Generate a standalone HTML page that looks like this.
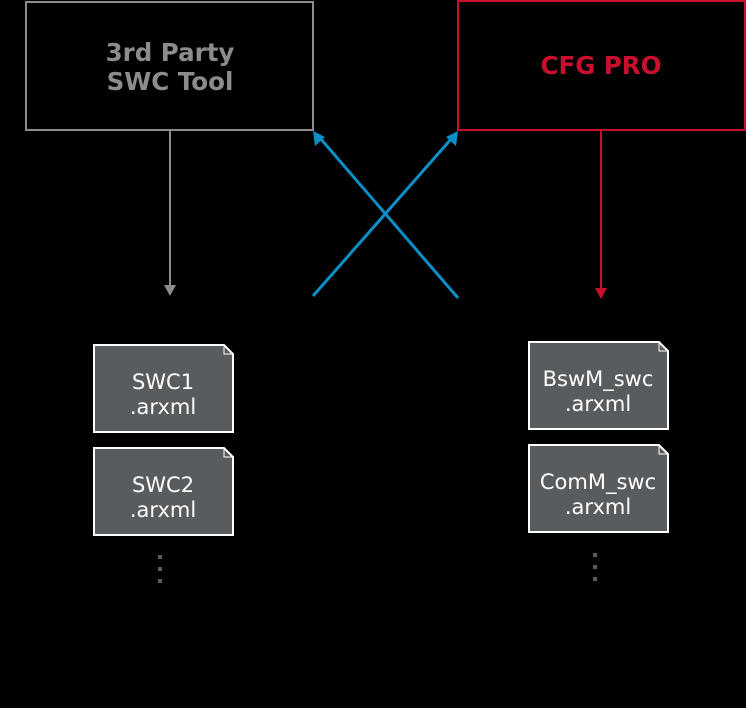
<!DOCTYPE html>
<html><head><style>body{margin:0;background:#000}svg{display:block}</style></head><body>
<svg width="746" height="708" xmlns="http://www.w3.org/2000/svg" font-family="DejaVu Sans, Liberation Sans, sans-serif">
<rect width="746" height="708" fill="#000"/>
<rect x="26" y="2" width="287" height="128" fill="none" stroke="#8a8c8e" stroke-width="2"/>
<text x="170" y="61" text-anchor="middle" font-size="24.5" font-weight="bold" fill="#8a8c8e">3rd Party</text>
<text x="170" y="90" text-anchor="middle" font-size="24.5" font-weight="bold" fill="#8a8c8e">SWC Tool</text>
<rect x="458" y="1" width="287" height="129" fill="none" stroke="#c8102e" stroke-width="2"/>
<text x="601" y="74" text-anchor="middle" font-size="24.5" font-weight="bold" fill="#c8102e">CFG PRO</text>
<line x1="170" y1="130" x2="170" y2="287" stroke="#8a8c8e" stroke-width="2"/>
<polygon points="164,285 176,285 170,296" fill="#8a8c8e"/>
<line x1="601" y1="130" x2="601" y2="290" stroke="#c8102e" stroke-width="2"/>
<polygon points="595,288 607,288 601,299" fill="#c8102e"/>
<g stroke="#0a8fc8" stroke-width="3">
<line x1="313" y1="296" x2="452" y2="138"/>
<line x1="458" y1="298" x2="320" y2="138"/>
</g>
<polygon points="458,131 456,146 446,137" fill="#0a8fc8"/>
<polygon points="313,131 325,137 315,146" fill="#0a8fc8"/>
<g font-size="21" fill="#fff" text-anchor="middle">
<path d="M94 345 H224 L233 354 V432 H94 Z" fill="#585c5f" stroke="#fff" stroke-width="2"/>
<path d="M224 345 V354 H233" fill="none" stroke="#fff" stroke-width="1"/>
<text x="163" y="389">SWC1</text><text x="163" y="414">.arxml</text>
<path d="M94 448 H224 L233 457 V535 H94 Z" fill="#585c5f" stroke="#fff" stroke-width="2"/>
<path d="M224 448 V457 H233" fill="none" stroke="#fff" stroke-width="1"/>
<text x="163" y="492">SWC2</text><text x="163" y="517">.arxml</text>
<path d="M529 342 H659 L668 351 V429 H529 Z" fill="#585c5f" stroke="#fff" stroke-width="2"/>
<path d="M659 342 V351 H668" fill="none" stroke="#fff" stroke-width="1"/>
<text x="598" y="386">BswM_swc</text><text x="598" y="411">.arxml</text>
<path d="M529 445 H659 L668 454 V532 H529 Z" fill="#585c5f" stroke="#fff" stroke-width="2"/>
<path d="M659 445 V454 H668" fill="none" stroke="#fff" stroke-width="1"/>
<text x="598" y="489">ComM_swc</text><text x="598" y="514">.arxml</text>
</g>
<g fill="#585c5f">
<rect x="158" y="555" width="4" height="4"/><rect x="158" y="567" width="4" height="4"/><rect x="158" y="579" width="4" height="4"/>
<rect x="593" y="553" width="4" height="4"/><rect x="593" y="565" width="4" height="4"/><rect x="593" y="577" width="4" height="4"/>
</g>
</svg>
</body></html>
